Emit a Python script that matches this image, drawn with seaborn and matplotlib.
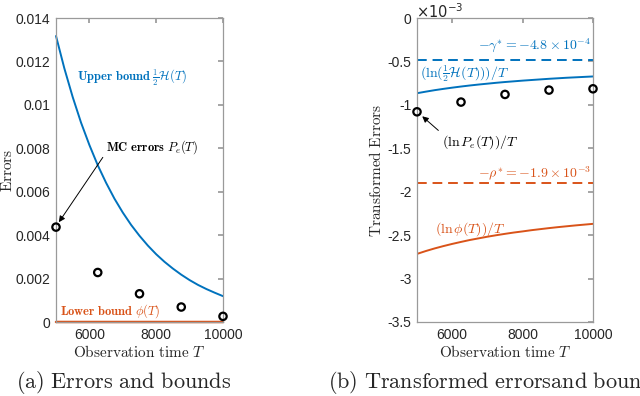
import matplotlib
matplotlib.use("Agg")
import matplotlib.pyplot as plt
import seaborn as sns
import numpy as np
import pandas as pd

# ---- data ----
T_curve = [5000, 5250, 5500, 5750, 6000, 6250, 6500, 6750, 7000, 7250, 7500,
           7750, 8000, 8250, 8500, 8750, 9000, 9250, 9500, 9750, 10000]
upper_bound = [0.01317, 0.01168, 0.01036, 0.00918, 0.00815, 0.00722, 0.00641,
               0.00568, 0.00504, 0.00447, 0.00397, 0.00352, 0.00312, 0.00277,
               0.00246, 0.00218, 0.00193, 0.00171, 0.00152, 0.00135, 0.00119]
lower_bound = [1.27e-6, 7.7e-7, 4.6e-7, 2.8e-7, 1.67e-7, 1.0e-7, 6.1e-8,
               3.7e-8, 2.2e-8, 1.3e-8, 8.0e-9, 4.8e-9, 2.9e-9, 1.8e-9,
               1.07e-9, 6.5e-10, 3.9e-10, 2.4e-10, 1.4e-10, 8.5e-11, 5.1e-11]
T_mc = [5000, 6250, 7500, 8750, 10000]
mc_errors = [0.00437, 0.00228, 0.00130, 0.00069, 0.00026]

# transformed values, in units of 1e-3
log_upper = [-0.866, -0.848, -0.831, -0.816, -0.802, -0.789, -0.777,
             -0.766, -0.756, -0.746, -0.737, -0.729, -0.721, -0.714,
             -0.707, -0.700, -0.694, -0.688, -0.683, -0.678, -0.673]
log_lower = [-2.716, -2.683, -2.653, -2.626, -2.601, -2.578, -2.556,
             -2.537, -2.518, -2.501, -2.485, -2.470, -2.457, -2.443,
             -2.431, -2.419, -2.408, -2.398, -2.388, -2.379, -2.370]
log_mc = [-1.080, -0.968, -0.880, -0.830, -0.815]
gamma_star = -0.48
rho_star = -1.9

left_yticks = [0, 0.002, 0.004, 0.006, 0.008, 0.01, 0.012, 0.014]
left_yticklabels = ["0", "0.002", "0.004", "0.006", "0.008", "0.01", "0.012", "0.014"]
right_yticks = [-3.5, -3, -2.5, -2, -1.5, -1, -0.5, 0]
right_yticklabels = ["-3.5", "-3", "-2.5", "-2", "-1.5", "-1", "-0.5", "0"]
xticks = [6000, 8000, 10000]

BLUE = "#0072BD"
ORANGE = "#D95319"
AXC = "#9a9a9a"

sns.set_theme(style="white")
plt.rcParams.update({
    "font.family": ["Liberation Sans", "DejaVu Sans"],
    "mathtext.fontset": "cm",
    "axes.edgecolor": AXC,
    "axes.linewidth": 0.9,
    "xtick.color": AXC,
    "ytick.color": AXC,
    "xtick.labelcolor": "#262626",
    "ytick.labelcolor": "#262626",
    "xtick.direction": "in",
    "ytick.direction": "in",
    "xtick.major.size": 3.5,
    "ytick.major.size": 3.5,
    "xtick.labelsize": 10,
    "ytick.labelsize": 10,
    "xtick.major.pad": 4,
    "ytick.major.pad": 4,
})

df_curve = pd.DataFrame({"T": T_curve, "upper": upper_bound, "lower": lower_bound,
                         "log_upper": log_upper, "log_lower": log_lower})
df_mc = pd.DataFrame({"T": T_mc, "mc": mc_errors, "log_mc": log_mc})

fig = plt.figure(figsize=(6.4, 3.96), dpi=100)
W, H = 640, 396
ax1 = fig.add_axes([56 / W, 1 - 322 / H, (223 - 56) / W, (322 - 18) / H])
ax2 = fig.add_axes([417 / W, 1 - 322 / H, (593 - 417) / W, (322 - 18) / H])

# ---- left panel ----
sns.lineplot(data=df_curve, x="T", y="upper", ax=ax1, color=BLUE, lw=1.4, clip_on=False)
sns.lineplot(data=df_curve, x="T", y="lower", ax=ax1, color=ORANGE, lw=1.8, clip_on=False)
sns.scatterplot(data=df_mc, x="T", y="mc", ax=ax1, marker="o", s=28,
                facecolor="none", edgecolor="black", linewidth=1.6, clip_on=False, zorder=5)
ax1.set_xlim(5000, 10000)
ax1.set_ylim(0, 0.014)
ax1.set_xticks(xticks)
ax1.set_xticklabels([str(t) for t in xticks])
ax1.set_yticks(left_yticks)
ax1.set_yticklabels(left_yticklabels)
ax1.set_xlabel(r"$\mathrm{Observation\ time\ }T$", fontsize=11, labelpad=2)
ax1.set_ylabel(r"$\mathrm{Errors}$", fontsize=11)
ax1.yaxis.set_label_coords(-0.248, 0.5)

ax1.text(5630, 0.01125, r"$\mathbf{Upper\ bound}\ \frac{1}{2}\mathcal{H}(T)$",
         color=BLUE, fontsize=9, va="center", ha="left")
ax1.text(5120, 0.00052, r"$\mathbf{Lower\ bound}\ \phi(T)$",
         color=ORANGE, fontsize=9, va="center", ha="left")
ax1.annotate(r"$\mathbf{MC\ errors}\ P_e(T)$", xy=(T_mc[0] + 40, mc_errors[0] + 0.00012),
             xytext=(6500, 0.00805), fontsize=9, color="black", va="center", ha="left",
             arrowprops=dict(arrowstyle="-|>", color="black", lw=0.7,
                             shrinkA=0, shrinkB=2, mutation_scale=9,
                             relpos=(0, 0.2)))

# ---- right panel ----
sns.lineplot(data=df_curve, x="T", y="log_upper", ax=ax2, color=BLUE, lw=1.4)
sns.lineplot(data=df_curve, x="T", y="log_lower", ax=ax2, color=ORANGE, lw=1.4)
ax2.axhline(gamma_star, color=BLUE, lw=1.4, ls=(0, (5, 3)))
ax2.axhline(rho_star, color=ORANGE, lw=1.4, ls=(0, (5, 3)))
sns.scatterplot(data=df_mc, x="T", y="log_mc", ax=ax2, marker="o", s=28,
                facecolor="none", edgecolor="black", linewidth=1.6, clip_on=False, zorder=5)
ax2.set_xlim(5000, 10000)
ax2.set_ylim(-3.5, 0)
ax2.set_xticks(xticks)
ax2.set_xticklabels([str(t) for t in xticks])
ax2.set_yticks(right_yticks)
ax2.set_yticklabels(right_yticklabels)
ax2.set_xlabel(r"$\mathrm{Observation\ time\ }T$", fontsize=11, labelpad=2)
ax2.set_ylabel(r"$\mathrm{Transformed\ Errors}$", fontsize=11)
ax2.yaxis.set_label_coords(-0.19, 0.5)
fig.text(416 / W, 1 - 2 / H, r"$\times10^{-3}$", fontsize=10.5,
         ha="left", va="top", color="#262626", math_fontfamily="dejavusans")

ax2.text(9950, -0.31, r"$-\gamma^{*} = -4.8\times10^{-4}$", color=BLUE, fontsize=10,
         ha="right", va="center")
ax2.text(5080, -0.645, r"$(\ln(\frac{1}{2}\mathcal{H}(T)))/T$", color=BLUE, fontsize=10,
         ha="left", va="center")
ax2.text(9950, -1.78, r"$-\rho^{*} = -1.9\times10^{-3}$", color=ORANGE, fontsize=10,
         ha="right", va="center")
ax2.text(5500, -2.43, r"$(\ln\phi(T))/T$", color=ORANGE, fontsize=10,
         ha="left", va="center")
ax2.annotate(r"$(\ln P_e(T))/T$", xy=(T_mc[0] + 60, log_mc[0] - 0.02),
             xytext=(5700, -1.43), fontsize=10, color="black", va="center", ha="left",
             arrowprops=dict(arrowstyle="-|>", color="black", lw=0.7,
                             shrinkA=0, shrinkB=3, mutation_scale=9,
                             relpos=(0, 1.0)))

for ax in (ax1, ax2):
    ax.tick_params(top=True, right=True, which="major")
    for s in ax.spines.values():
        s.set_visible(True)
        s.set_color(AXC)

fig.text(16 / W, 1 - 383 / H, r"$\mathrm{(a)\ Errors\ and\ bounds}$", fontsize=16,
         ha="left", va="center")
fig.text(328 / W, 1 - 383 / H, r"$\mathrm{(b)\ Transformed\ errorsand\ bounds}$", fontsize=16,
         ha="left", va="center")

fig.savefig("out.png", dpi=100)
